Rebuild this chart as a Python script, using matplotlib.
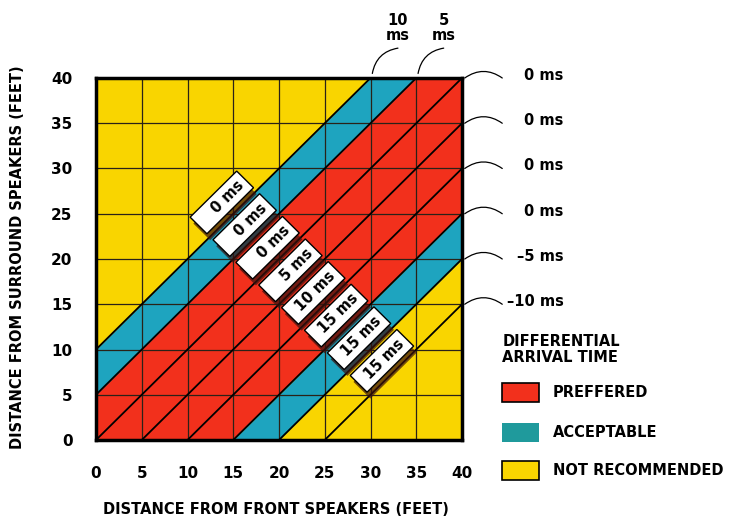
import numpy as np
import matplotlib.pyplot as plt
from matplotlib.patches import Polygon, Rectangle

# --- data (offsets are y - x, in feet) ---
axis_ticks = [0, 5, 10, 15, 20, 25, 30, 35, 40]
preferred_band = (-15, 5)
acceptable_bands = [(5, 10), (-20, -15)]
diagonal_offsets = [10, 5, 0, -5, -10, -15, -20, -25]

box_offsets = [12.5, 7.5, 2.5, -2.5, -7.5, -12.5, -17.5, -22.5]
box_texts = ["0 ms", "0 ms", "0 ms", "5 ms", "10 ms", "15 ms", "15 ms", "15 ms"]

right_label_y = [40, 35, 30, 25, 20, 15]
right_label_texts = ["0 ms", "0 ms", "0 ms", "0 ms", "\u20135 ms", "\u201310 ms"]

top_label_x = [30, 35]
top_label_texts = ["10\nms", "5\nms"]

legend_labels = ["PREFFERED", "ACCEPTABLE", "NOT RECOMMENDED"]

# colours
RED = "#f2301c"
TEAL = "#1ea4bf"
TEAL_LEGEND = "#1f9a9c"
YELLOW = "#f9d500"

FONT = "DejaVu Sans"


def draw_field(ax):
    x = np.array([0, 40])
    ax.set_facecolor(YELLOW)
    ax.fill_between(x, x + preferred_band[0], x + preferred_band[1], color=RED, lw=0)
    for lo, hi in acceptable_bands:
        ax.fill_between(x, x + lo, x + hi, color=TEAL, lw=0)
    # square grid
    for t in axis_ticks[1:-1]:
        ax.axvline(t, color="#2a2218", lw=0.9, zorder=2)
        ax.axhline(t, color="#2a2218", lw=0.9, zorder=2)
    # diagonals
    for d in diagonal_offsets:
        ax.plot(x, x + d, color="black", lw=1.3, zorder=3)


def draw_boxes(ax):
    u = np.array([1, 1]) / np.sqrt(2)    # along the diagonal
    v = np.array([1, -1]) / np.sqrt(2)   # across (towards next box)
    half_len, half_w = 3.6, 1.3
    for d, txt in zip(box_offsets, box_texts):
        c = np.array([(40 - d) / 2, (40 + d) / 2])
        corners = [c - half_len * u - half_w * v, c + half_len * u - half_w * v,
                   c + half_len * u + half_w * v, c - half_len * u + half_w * v]
        # soft drop shadow, offset towards the lower right
        shadow = [p + 0.75 * v - 0.25 * u for p in corners]
        ax.add_patch(Polygon(shadow, closed=True, fc="#3a120e", ec="none",
                             alpha=0.7, zorder=4))
        ax.add_patch(Polygon(corners, closed=True, fc="white", ec="black",
                             lw=1.0, zorder=5))
        anchor = c + (half_len - 0.55) * u
        ax.text(anchor[0], anchor[1], txt, rotation=45, rotation_mode="anchor",
                ha="right", va="center", fontsize=10.5, fontweight="bold",
                family=FONT, zorder=6)


def draw_annotations(ax):
    for y, txt in zip(right_label_y, right_label_texts):
        ax.annotate("", xy=(40.3, y), xytext=(44.4, y), annotation_clip=False,
                    arrowprops=dict(arrowstyle="-", lw=0.9, color="black",
                                    connectionstyle="arc3,rad=0.35",
                                    shrinkA=0, shrinkB=0))
        ax.text(51.1, y + 0.3, txt, ha="right", va="center", fontsize=10.5,
                fontweight="bold", family=FONT, clip_on=False)
    for x, txt in zip(top_label_x, top_label_texts):
        ax.annotate("", xy=(x + 0.2, 40.5), xytext=(x + 3.0, 43.3),
                    annotation_clip=False,
                    arrowprops=dict(arrowstyle="-", lw=0.9, color="black",
                                    connectionstyle="arc3,rad=0.35",
                                    shrinkA=0, shrinkB=0))
        ax.text(x + 3.0, 45.5, txt, ha="center", va="center", fontsize=10.5,
                fontweight="bold", family=FONT, clip_on=False, linespacing=1.0)


def draw_legend(ax):
    ax.text(44.4, 10.0, "DIFFERENTIAL\nARRIVAL TIME", ha="left", va="center",
            fontsize=10.5, fontweight="bold", family=FONT, clip_on=False,
            linespacing=1.15)
    swatch_y = [4.2, -0.2, -4.4]
    colors = [RED, TEAL_LEGEND, YELLOW]
    edges = ["black", "none", "black"]
    for y0, col, ec, lab in zip(swatch_y, colors, edges, legend_labels):
        ax.add_patch(Rectangle((44.4, y0), 4.0, 2.1, fc=col, ec=ec, lw=1.2,
                               clip_on=False))
        ax.text(49.9, y0 + 1.0, lab, ha="left", va="center", fontsize=10.5,
                fontweight="bold", family=FONT, clip_on=False)


def main():
    fig = plt.figure(figsize=(7.3, 5.18), dpi=100)
    ax = fig.add_axes([96 / 730, 78 / 518, 366 / 730, 362 / 518])
    ax.set_xlim(0, 40)
    ax.set_ylim(0, 40)

    draw_field(ax)
    draw_boxes(ax)
    draw_annotations(ax)
    draw_legend(ax)

    ax.set_xticks(axis_ticks)
    ax.set_yticks(axis_ticks)
    ax.tick_params(length=0, labelsize=11, pad=19)
    ax.tick_params(axis="y", pad=17)
    for lab in ax.get_xticklabels() + ax.get_yticklabels():
        lab.set_fontweight("bold")
        lab.set_family(FONT)
    for sp in ax.spines.values():
        sp.set_linewidth(2.5)
        sp.set_zorder(7)

    fig.text(276 / 730, 1 - 510 / 518, "DISTANCE FROM FRONT SPEAKERS (FEET)",
             ha="center", va="center", fontsize=10.5, fontweight="bold", family=FONT)
    fig.text(18 / 730, 1 - 257 / 518, "DISTANCE FROM SURROUND SPEAKERS (FEET)",
             ha="center", va="center", rotation=90, fontsize=10.5,
             fontweight="bold", family=FONT)

    fig.savefig("out.png", dpi=100, facecolor="white")


if __name__ == "__main__":
    main()
